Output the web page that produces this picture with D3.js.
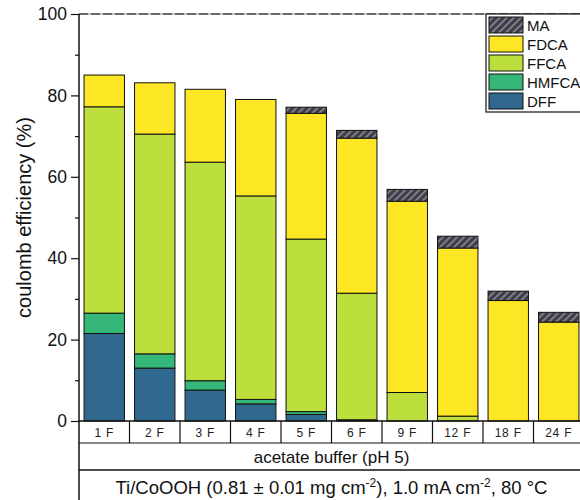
<!DOCTYPE html>
<html><head><meta charset="utf-8">
<script src="https://cdn.jsdelivr.net/npm/d3@7"></script>
<style>
html,body{margin:0;padding:0;background:#fff;}
svg{display:block;font-family:"Liberation Sans",Arial,sans-serif;}
</style></head>
<body>
<svg id="chart" width="580" height="500"></svg>
<script>
const categories = ["1 F","2 F","3 F","4 F","5 F","6 F","9 F","12 F","18 F","24 F"];
const DFF   = [21.5, 13.0, 7.6, 4.2, 1.6, 0.2, 0, 0, 0, 0];
const HMFCA = [5.0, 3.5, 2.3, 1.1, 0.7, 0.1, 0, 0, 0, 0];
const FFCA  = [50.7, 54.0, 53.7, 50.0, 42.4, 31.1, 7.0, 1.2, 0, 0];
const FDCA  = [7.8, 12.6, 17.9, 23.7, 30.9, 38.1, 47.0, 41.3, 29.6, 24.3];
const MA    = [0, 0, 0, 0, 1.5, 1.9, 2.9, 2.9, 2.3, 2.4];
const seriesNames = ["DFF","HMFCA","FFCA","FDCA","MA"];
const yTicks = [0, 20, 40, 60, 80, 100];
const yMinorTicks = [10, 30, 50, 70, 90];
const legendOrder = ["MA","FDCA","FFCA","HMFCA","DFF"];
const rowLabel2 = "acetate buffer (pH 5)";

const colors = {DFF:"#31688e", HMFCA:"#35b779", FFCA:"#bddf3d", FDCA:"#fde725", MA:"url(#hatch)"};
const seriesData = {DFF, HMFCA, FFCA, FDCA, MA};

const svg = d3.select("#chart");
const L = 79, R = 584, T = 14, B = 421;

const defs = svg.append("defs");
const pat = defs.append("pattern").attr("id","hatch").attr("patternUnits","userSpaceOnUse")
  .attr("width",5).attr("height",5).attr("patternTransform","rotate(45)");
pat.append("rect").attr("width",5).attr("height",5).attr("fill","#3e3e48");
pat.append("rect").attr("x",0).attr("width",1.6).attr("height",5).attr("fill","#8c8c98");

const x = d3.scaleBand().domain(categories).range([L, R]).paddingInner(0.2).paddingOuter(0.1);
const y = d3.scaleLinear().domain([0, 100]).range([B, T]);

const table = categories.map((c, i) => {
  const o = {cat: c};
  seriesNames.forEach(s => o[s] = seriesData[s][i]);
  return o;
});
const stacked = d3.stack().keys(seriesNames)(table);

stacked.forEach(layer => {
  svg.append("g").selectAll("rect")
    .data(layer.filter(d => d[1] - d[0] > 0))
    .join("rect")
    .attr("x", d => x(d.data.cat))
    .attr("width", x.bandwidth())
    .attr("y", d => y(d[1]))
    .attr("height", d => y(d[0]) - y(d[1]))
    .attr("fill", colors[layer.key])
    .attr("stroke", "#111")
    .attr("stroke-width", 1);
});

svg.append("line").attr("x1", L).attr("x2", R).attr("y1", T).attr("y2", T)
  .attr("stroke", "#888").attr("stroke-width", 1.2);
svg.append("line").attr("x1", L).attr("x2", R).attr("y1", T).attr("y2", T)
  .attr("stroke", "#111").attr("stroke-width", 1.2).attr("stroke-dasharray", "9,3");

const yAxis = d3.axisLeft(y).tickValues(yTicks).tickSize(8).tickPadding(4).tickFormat(d3.format("d"));
const gy = svg.append("g").attr("transform", `translate(${L},0)`).call(yAxis);
gy.select(".domain").remove();
gy.selectAll("line").attr("stroke", "#111").attr("stroke-width", 1.2);
gy.selectAll("text").attr("font-size", 17.5).attr("fill", "#111").attr("font-family", "Liberation Sans, Arial, sans-serif");
const yMinor = d3.axisLeft(y).tickValues(yMinorTicks).tickSize(4).tickFormat("");
const gym = svg.append("g").attr("transform", `translate(${L},0)`).call(yMinor);
gym.select(".domain").remove();
gym.selectAll("line").attr("stroke", "#111").attr("stroke-width", 1.2);

svg.append("line").attr("x1", L).attr("x2", L).attr("y1", T).attr("y2", 500)
  .attr("stroke", "#111").attr("stroke-width", 1.5);
svg.append("line").attr("x1", L).attr("x2", R).attr("y1", B).attr("y2", B)
  .attr("stroke", "#111").attr("stroke-width", 1.5);

const row1B = 443, row2B = 470;
svg.append("line").attr("x1", L).attr("x2", R).attr("y1", row1B).attr("y2", row1B)
  .attr("stroke", "#111").attr("stroke-width", 1.2);
svg.append("line").attr("x1", L).attr("x2", R).attr("y1", row2B).attr("y2", row2B)
  .attr("stroke", "#111").attr("stroke-width", 1.5);
const step = x.step();
const bounds = categories.map(c => x(c) - (step - x.bandwidth()) / 2).slice(1);
svg.append("g").selectAll("line").data(bounds).join("line")
  .attr("x1", d => d).attr("x2", d => d).attr("y1", B).attr("y2", row1B)
  .attr("stroke", "#111").attr("stroke-width", 1.2);

svg.append("g").selectAll("text").data(categories).join("text")
  .attr("x", d => x(d) + x.bandwidth() / 2)
  .attr("y", 437)
  .attr("text-anchor", "middle")
  .attr("font-size", 12)
  .attr("letter-spacing", 0.8)
  .attr("fill", "#222")
  .text(d => d);

const cx = (L + R) / 2;
svg.append("text").attr("x", cx).attr("y", 463).attr("text-anchor", "middle")
  .attr("font-size", 17).attr("fill", "#111").text(rowLabel2);

const t3 = svg.append("text").attr("x", cx).attr("y", 494).attr("text-anchor", "middle")
  .attr("font-size", 18.5).attr("fill", "#111");
t3.append("tspan").text("Ti/CoOOH (0.81 \u00b1 0.01 mg cm");
t3.append("tspan").attr("dy", -7).attr("font-size", 12).text("-2");
t3.append("tspan").attr("dy", 7).text("), 1.0 mA cm");
t3.append("tspan").attr("dy", -7).attr("font-size", 12).text("-2");
t3.append("tspan").attr("dy", 7).text(", 80 \u00b0C");

svg.append("text").attr("transform", `translate(31,${(T + B) / 2}) rotate(-90)`)
  .attr("text-anchor", "middle").attr("font-size", 20).attr("fill", "#111")
  .text("coulomb efficiency (%)");

const lg = svg.append("g");
lg.append("rect").attr("x", 486).attr("y", 14).attr("width", 110).attr("height", 98)
  .attr("fill", "#fff").attr("stroke", "#111").attr("stroke-width", 1.2);
legendOrder.forEach((k, i) => {
  const yy = 17 + i * 19;
  lg.append("rect").attr("x", 489).attr("y", yy).attr("width", 34).attr("height", 16)
    .attr("fill", colors[k]).attr("stroke", "#111").attr("stroke-width", 1);
  lg.append("text").attr("x", 527).attr("y", yy + 14).attr("font-size", 15).attr("fill", "#111").text(k);
});
</script>
</body></html>
